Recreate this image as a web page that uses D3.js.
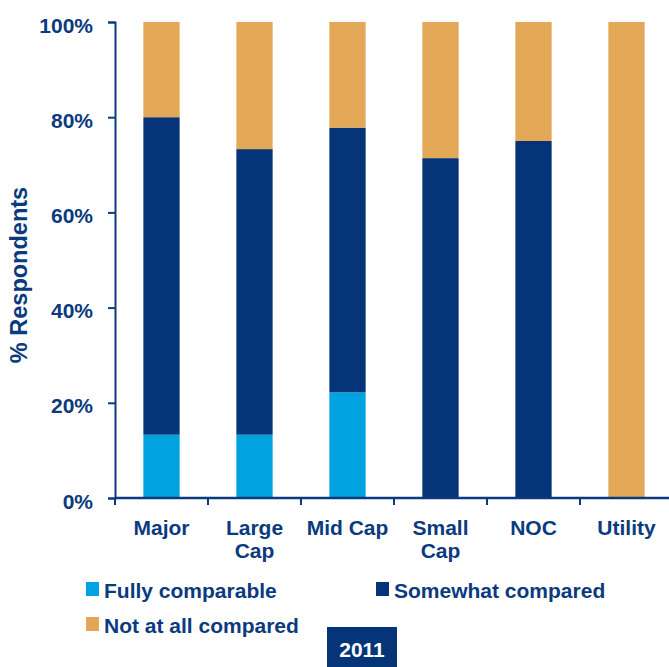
<!DOCTYPE html>
<html>
<head>
<meta charset="utf-8">
<script src="https://cdn.jsdelivr.net/npm/d3@7"></script>
<style>
  body { margin: 0; background: #fff; }
  svg text { font-family: "Liberation Sans", Arial, sans-serif; font-weight: bold; }
</style>
</head>
<body>
<div id="chart"></div>
<script>
// Chart data (percent of respondents, 2011)
const categories = ['Major', 'Large Cap', 'Mid Cap', 'Small Cap', 'NOC', 'Utility'];
const categoryLines = [['Major'], ['Large', 'Cap'], ['Mid Cap'], ['Small', 'Cap'], ['NOC'], ['Utility']];
const seriesNames = ['Fully comparable', 'Somewhat compared', 'Not at all compared'];
const fullyComparable = [13.3, 13.3, 22.2, 0, 0, 0];
const somewhatCompared = [66.7, 60.0, 55.6, 71.4, 75.0, 0];
const notAtAllCompared = [20.0, 26.7, 22.2, 28.6, 25.0, 100];
const yTicks = [0, 20, 40, 60, 80, 100];
const yearLabel = '2011';

const colors = ['#00a3e0', '#063478', '#e2a857'];
const textColor = '#0b3a7e';

const width = 669, height = 667;
const margin = { top: 22, right: -4, bottom: 169, left: 115 };

const svg = d3.select('#chart')
    .append('svg')
    .attr('width', width)
    .attr('height', height);

// Build stacked table
const table = categories.map((c, i) => ({
    category: c,
    'Fully comparable': fullyComparable[i],
    'Somewhat compared': somewhatCompared[i],
    'Not at all compared': notAtAllCompared[i]
}));
const stacked = d3.stack().keys(seriesNames)(table);

const x = d3.scaleBand()
    .domain(categories)
    .range([margin.left, width - margin.right])
    .paddingInner(0.61)
    .paddingOuter(0.305);

const y = d3.scaleLinear()
    .domain([0, 100])
    .range([height - margin.bottom, margin.top]);

// Bars
svg.append('g')
    .selectAll('g')
    .data(stacked)
    .enter()
    .append('g')
    .attr('fill', (d, i) => colors[i])
    .selectAll('rect')
    .data(d => d)
    .enter()
    .append('rect')
    .attr('x', d => x(d.data.category))
    .attr('width', x.bandwidth())
    .attr('y', d => y(d[1]))
    .attr('height', d => y(d[0]) - y(d[1]));

// Y axis
const yAxis = svg.append('g')
    .attr('transform', `translate(${margin.left},0)`)
    .call(d3.axisLeft(y).tickValues(yTicks).tickFormat(d => d + '%').tickSize(7).tickSizeOuter(7));
yAxis.select('.domain').attr('stroke', textColor).attr('stroke-width', 2);
yAxis.selectAll('.tick line').attr('stroke', textColor).attr('stroke-width', 2);
yAxis.selectAll('.tick text')
    .attr('fill', textColor)
    .attr('font-size', 21)
    .attr('x', -22)
    .attr('dy', 10);

// X axis with boundary ticks between categories
const xAxisY = y(0);
const xg = svg.append('g');
xg.append('line')
    .attr('x1', margin.left).attr('x2', width)
    .attr('y1', xAxisY).attr('y2', xAxisY)
    .attr('stroke', textColor).attr('stroke-width', 2.5);
const step = x.step();
xg.selectAll('.xtick')
    .data(categories)
    .enter()
    .append('line')
    .attr('class', 'xtick')
    .attr('x1', (d, i) => margin.left + i * step)
    .attr('x2', (d, i) => margin.left + i * step)
    .attr('y1', xAxisY).attr('y2', xAxisY + 7)
    .attr('stroke', textColor).attr('stroke-width', 2);

// Category labels
const labels = xg.selectAll('.cat')
    .data(categories)
    .enter()
    .append('text')
    .attr('class', 'cat')
    .attr('text-anchor', 'middle')
    .attr('fill', textColor)
    .attr('font-size', 21)
    .attr('y', 535);
labels.selectAll('tspan')
    .data((d, i) => categoryLines[i].map(t => ({ t, c: d })))
    .enter()
    .append('tspan')
    .attr('x', d => x(d.c) + x.bandwidth() / 2)
    .attr('dy', (d, i) => i === 0 ? 0 : 23)
    .text(d => d.t);

// Y axis title
svg.append('text')
    .attr('transform', 'translate(27,275) rotate(-90)')
    .attr('text-anchor', 'middle')
    .attr('fill', textColor)
    .attr('font-size', 23.5)
    .text('% Respondents');

// Legend
const legendPos = [[86, 582], [376, 582], [86, 617]];
const legend = svg.append('g')
    .selectAll('g')
    .data(seriesNames)
    .enter()
    .append('g')
    .attr('transform', (d, i) => `translate(${legendPos[i][0]},${legendPos[i][1]})`);
legend.append('rect')
    .attr('width', 13)
    .attr('height', 14)
    .attr('fill', (d, i) => colors[i]);
legend.append('text')
    .attr('x', 18)
    .attr('y', 15.5)
    .attr('fill', textColor)
    .attr('font-size', 21)
    .text(d => d);

// Year box
svg.append('rect')
    .attr('x', 327).attr('y', 627)
    .attr('width', 70).attr('height', 40)
    .attr('fill', '#063478');
svg.append('text')
    .attr('x', 362).attr('y', 657)
    .attr('text-anchor', 'middle')
    .attr('fill', '#fff')
    .attr('font-size', 21)
    .text(yearLabel);
</script>
</body>
</html>
